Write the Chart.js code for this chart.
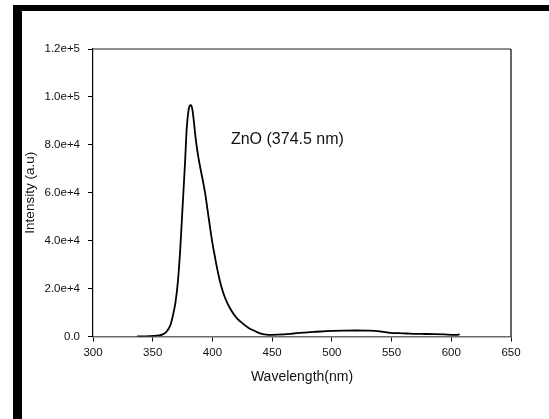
<!DOCTYPE html>
<html>
<head>
<meta charset="utf-8">
<script src="https://cdn.jsdelivr.net/npm/chart.js@4/dist/chart.umd.min.js"></script>
<style>
  html, body { margin: 0; padding: 0; background: #fff; }
  #wrap { position: relative; width: 549px; height: 419px; overflow: hidden; }
  #c { position: absolute; left: 0; top: 0; }
  .bar { position: absolute; background: #000; }
</style>
</head>
<body>
<div id="wrap">
  <canvas id="c" width="549" height="419"></canvas>
  <div class="bar" style="left:13px; top:5px; width:536px; height:6px;"></div>
  <div class="bar" style="left:13px; top:5px; width:9px; height:414px;"></div>
</div>
<script>
// ---- data ----
const wavelengths = [337, 342, 347, 351, 355, 358, 361, 363, 365, 367, 369, 371, 373, 375, 377, 378.5, 380, 381, 382, 383, 384, 386, 388, 390, 392, 394, 396, 398, 400, 402, 404, 406, 408, 410, 412, 415, 418, 421, 425, 430, 435, 440, 445, 450, 460, 468, 476, 485, 493, 501, 510, 520, 530, 536, 542, 549, 556, 563, 570, 578, 586, 594, 600, 604, 607];
const intensity = [0, 50, 150, 250, 450, 800, 1700, 3000, 5000, 9000, 14000, 22500, 36000, 54000, 72000, 87000, 94500, 96300, 96600, 95300, 91800, 82500, 75500, 70000, 65000, 59500, 52500, 45500, 39000, 33500, 28200, 23700, 19900, 16900, 14500, 11600, 9200, 7400, 5600, 3700, 2400, 1300, 800, 700, 900, 1250, 1600, 1950, 2150, 2350, 2450, 2500, 2450, 2350, 2000, 1550, 1400, 1250, 1100, 1050, 980, 850, 700, 650, 850];
const xTickValues = [300, 350, 400, 450, 500, 550, 600, 650];
const yTickValues = [0, 20000, 40000, 60000, 80000, 100000, 120000];
const yTickLabels = ['0.0', '2.0e+4', '4.0e+4', '6.0e+4', '8.0e+4', '1.0e+5', '1.2e+5'];
const xTitle = 'Wavelength(nm)';
const yTitle = 'Intensity (a.u)';
const annotationText = 'ZnO (374.5 nm)';
const annotationX = 415.5;
const annotationY = 82000;

const points = wavelengths.map((w, i) => ({ x: w, y: intensity[i] }));
const FONT = "'Liberation Sans', Arial, sans-serif";

const framePlugin = {
  id: 'frame',
  afterDraw(chart) {
    const { ctx, chartArea: a, scales } = chart;
    ctx.save();
    ctx.strokeStyle = '#6a6a6a';
    ctx.lineWidth = 1.5;
    ctx.beginPath();
    ctx.moveTo(a.left, a.top);
    ctx.lineTo(a.right, a.top);
    ctx.stroke();
    ctx.strokeStyle = '#000';
    ctx.lineWidth = 1.2;
    ctx.beginPath();
    ctx.moveTo(a.right, a.top);
    ctx.lineTo(a.right, a.bottom);
    ctx.stroke();
    ctx.fillStyle = '#111';
    ctx.font = '16px ' + FONT;
    ctx.textAlign = 'left';
    ctx.textBaseline = 'middle';
    ctx.fillText(annotationText, scales.x.getPixelForValue(annotationX), scales.y.getPixelForValue(annotationY));
    ctx.restore();
  }
};

new Chart(document.getElementById('c'), {
  type: 'line',
  data: {
    datasets: [{
      data: points,
      borderColor: '#000',
      borderWidth: 1.8,
      pointRadius: 0,
      fill: false,
      cubicInterpolationMode: 'monotone'
    }]
  },
  options: {
    responsive: false,
    devicePixelRatio: 1,
    animation: false,
    layout: { padding: { left: 0, top: 49, right: 38, bottom: 32.5 } },
    plugins: { legend: { display: false }, tooltip: { enabled: false } },
    scales: {
      x: {
        type: 'linear',
        min: 300, max: 650,
        afterFit(s) { s.height = 50; },
        afterBuildTicks(s) { s.ticks = xTickValues.map(v => ({ value: v })); },
        grid: { drawOnChartArea: false, drawTicks: true, tickLength: 5, color: '#000' },
        border: { display: true, color: '#6a6a6a', width: 1.5 },
        ticks: { color: '#111', font: { family: FONT, size: 11.5 }, padding: 4, maxRotation: 0, callback: v => String(v) },
        title: { display: true, text: xTitle, color: '#111', font: { family: FONT, size: 14 }, padding: { top: 0, bottom: 1 } }
      },
      y: {
        type: 'linear',
        min: 0, max: 120000,
        afterFit(s) { s.width = 93; },
        afterBuildTicks(s) { s.ticks = yTickValues.map(v => ({ value: v })); },
        grid: { drawOnChartArea: false, drawTicks: true, tickLength: 5, color: '#000' },
        border: { display: true, color: '#000', width: 1.2 },
        ticks: { color: '#111', font: { family: FONT, size: 11.5 }, padding: 8,
                 callback: v => yTickLabels[yTickValues.indexOf(v)] },
        title: { display: true, text: yTitle, color: '#111', font: { family: FONT, size: 13.5 }, padding: { top: 22, bottom: 0 } }
      }
    }
  },
  plugins: [framePlugin]
});
</script>
</body>
</html>
